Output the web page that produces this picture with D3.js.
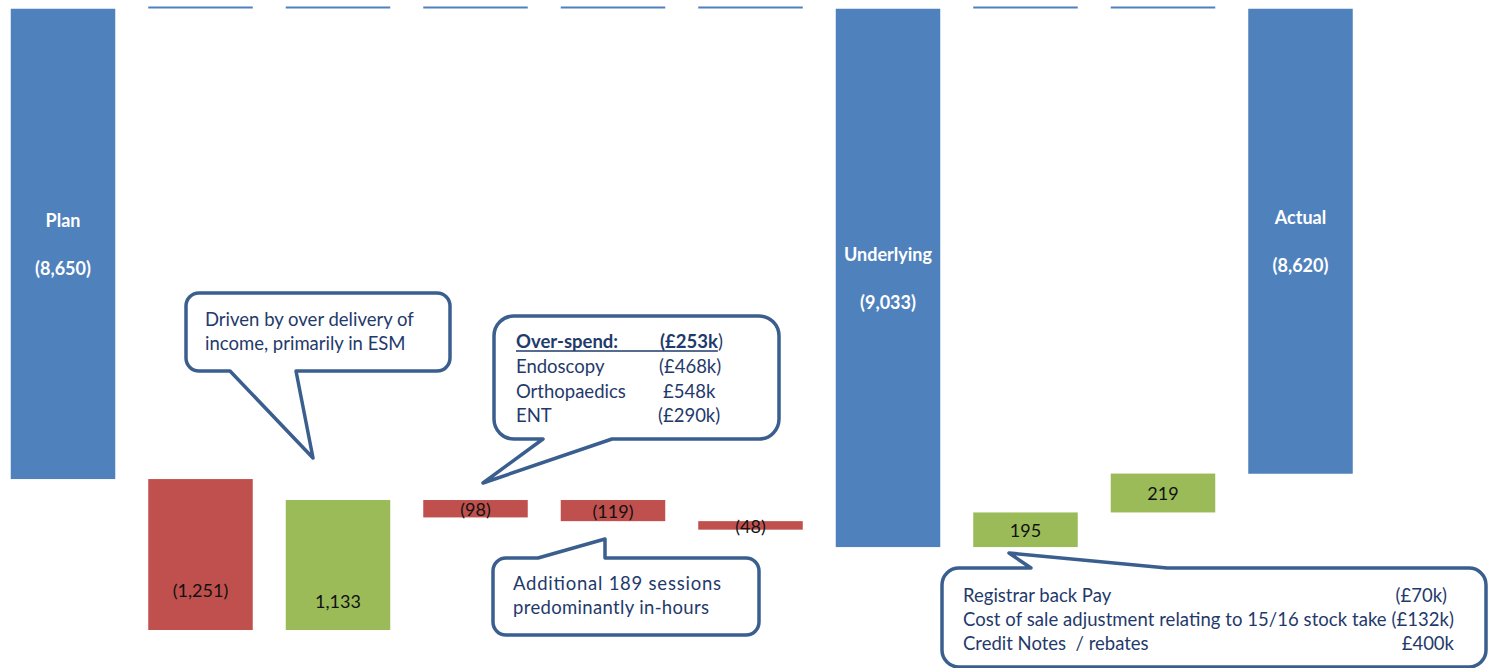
<!DOCTYPE html>
<html>
<head>
<meta charset="utf-8">
<script src="https://cdn.jsdelivr.net/npm/d3@7"></script>
<style>
  html, body { margin: 0; padding: 0; background: #fff; }
  svg { display: block; font-family: Lato, "Open Sans", sans-serif; }
</style>
</head>
<body>
<svg id="chart" width="1498" height="668"></svg>
<script>
// Waterfall: plan -> underlying -> actual (£k, costs shown as negatives)
const categoryNames = ["Plan", "", "", "", "", "", "Underlying", "", "", "Actual"];
const values = [-8650, -1251, 1133, -98, -119, -48, -9033, 195, 219, -8620];
const isTotal = [true, false, false, false, false, false, true, false, false, true];
// running level (magnitude) each movement starts from
const stepStart = [null, 8650, 9901, 8768, 8768, 8887, null, 9033, 8838, null];
// visible window of the (reversed) value axis
const axisDomain = [6000, 9500];

const W = 1498, H = 668;
const plotTop = 8.5, plotBottom = 630;

const colors = { total: "#4F81BD", down: "#C0504D", up: "#9BBB59" };
const calloutStroke = "#3A5F8E";
const calloutText = "#1F3A6B";

const svg = d3.select("#chart");

const x = d3.scaleBand()
  .domain(d3.range(categoryNames.length))
  .range([-5.75, 1369.25])
  .paddingInner(0.24)
  .paddingOuter(0.12);

const y = d3.scaleLinear().domain(axisDomain).range([plotTop, plotBottom]);

const fmt = d3.format(",");
const fmtVal = v => v < 0 ? "(" + fmt(-v) + ")" : fmt(v);

const bars = values.map((v, i) => {
  const a = isTotal[i] ? axisDomain[0] : stepStart[i];
  const b = isTotal[i] ? Math.abs(v) : stepStart[i] - v;
  return {
    i, v, total: isTotal[i], name: categoryNames[i],
    lo: Math.min(a, b), hi: Math.max(a, b),
    color: isTotal[i] ? colors.total : (v < 0 ? colors.down : colors.up)
  };
});

svg.append("clipPath").attr("id", "plot-clip")
  .append("rect")
  .attr("x", 0).attr("y", plotTop)
  .attr("width", W).attr("height", plotBottom - plotTop);

const plot = svg.append("g").attr("clip-path", "url(#plot-clip)");

// outline of the hidden base segment under each movement
svg.append("g").selectAll("line")
  .data(bars.filter(d => !d.total))
  .join("line")
  .attr("x1", d => x(d.i))
  .attr("x2", d => x(d.i) + x.bandwidth())
  .attr("y1", y(axisDomain[0]) - 1)
  .attr("y2", y(axisDomain[0]) - 1)
  .attr("stroke", colors.total)
  .attr("stroke-width", 2);

plot.selectAll("rect.bar")
  .data(bars)
  .join("rect")
  .attr("class", "bar")
  .attr("x", d => x(d.i))
  .attr("width", x.bandwidth())
  .attr("y", d => y(d.lo))
  .attr("height", d => y(d.hi) - y(d.lo))
  .attr("fill", d => d.color);

// value labels on movements
plot.selectAll("text.step")
  .data(bars.filter(d => !d.total))
  .join("text")
  .attr("class", "step")
  .attr("x", d => x(d.i) + x.bandwidth() / 2)
  .attr("y", d => (y(d.lo) + y(d.hi)) / 2)
  .attr("dy", "0.4em")
  .attr("text-anchor", "middle")
  .attr("font-size", 18)
  .attr("fill", "#111")
  .text(d => fmtVal(d.v));

// name + value labels on totals
const totLab = plot.selectAll("g.totlab")
  .data(bars.filter(d => d.total))
  .join("g")
  .attr("class", "totlab")
  .attr("transform", d => `translate(${x(d.i) + x.bandwidth() / 2},${(y(d.lo) + y(d.hi)) / 2})`)
  .attr("text-anchor", "middle")
  .attr("font-size", 18)
  .attr("font-weight", "bold")
  .attr("fill", "#fff");
totLab.append("text").attr("y", -24).attr("dy", "0.38em").text(d => d.name);
totLab.append("text").attr("y", 24).attr("dy", "0.38em").text(d => fmtVal(d.v));

// speech-bubble annotations
function calloutPath(x0, y0, x1, y1, r, tail) {
  const p = d3.path();
  p.moveTo(x0 + r, y0);
  if (tail.edge === "top") {
    p.lineTo(tail.a, y0); p.lineTo(tail.tip[0], tail.tip[1]); p.lineTo(tail.b, y0);
  }
  p.lineTo(x1 - r, y0);
  p.arcTo(x1, y0, x1, y0 + r, r);
  p.lineTo(x1, y1 - r);
  p.arcTo(x1, y1, x1 - r, y1, r);
  if (tail.edge === "bottom") {
    p.lineTo(tail.b, y1); p.lineTo(tail.tip[0], tail.tip[1]); p.lineTo(tail.a, y1);
  }
  p.lineTo(x0 + r, y1);
  p.arcTo(x0, y1, x0, y1 - r, r);
  p.lineTo(x0, y0 + r);
  p.arcTo(x0, y0, x0 + r, y0, r);
  p.closePath();
  return p.toString();
}

const notes = svg.append("g");
function bubble(box, r, tail) {
  notes.append("path")
    .attr("d", calloutPath(box[0], box[1], box[2], box[3], r, tail))
    .attr("fill", "#fff")
    .attr("stroke", calloutStroke)
    .attr("stroke-width", 3.5)
    .attr("stroke-linejoin", "round");
}
function note(txt, xx, yy, opts = {}) {
  return notes.append("text")
    .attr("x", xx).attr("y", yy)
    .attr("font-size", opts.size || 18.5)
    .attr("font-weight", opts.bold ? "bold" : null)
    .attr("text-anchor", opts.anchor || "start")
    .attr("fill", calloutText)
    .text(txt);
}

// income
bubble([186, 293, 450, 371], 13, { edge: "bottom", a: 230, b: 296, tip: [313, 458] });
note("Driven by over delivery of", 205, 326);
note("income, primarily in ESM", 205, 350);

// specialty breakdown
bubble([494, 316, 779, 439], 20, { edge: "bottom", a: 543, b: 612, tip: [483, 483] });
note("Over-spend:", 516, 348, { bold: true });
const t2 = notes.append("text").attr("x", 660).attr("y", 348).attr("font-size", 18.5).attr("fill", calloutText);
t2.append("tspan").attr("font-weight", "bold").text("(£253k");
t2.append("tspan").text(")");
const uEnd = 660 + t2.select("tspan").node().getComputedTextLength();
notes.append("line").attr("x1", 516).attr("x2", uEnd).attr("y1", 351).attr("y2", 351)
  .attr("stroke", calloutText).attr("stroke-width", 1.6);
note("Endoscopy", 516, 373);
note("(£468k)", 659, 373);
note("Orthopaedics", 516, 397.5);
note("£548k", 663, 397.5);
note("ENT", 516, 422);
note("(£290k)", 658, 422);

// sessions
bubble([493, 558, 759, 635], 13, { edge: "top", a: 538, b: 605, tip: [605, 539] });
note("Additional 189 sessions", 513, 590).attr("textLength", 208).attr("lengthAdjust", "spacing");
note("predominantly in-hours", 513, 614).attr("textLength", 196).attr("lengthAdjust", "spacing");

// non-pay items
bubble([942, 568, 1486, 667], 17, { edge: "top", a: 1031, b: 1167, tip: [1009, 553] });
note("Registrar back Pay", 963, 602);
note("(£70k)", 1447, 602, { anchor: "end" });
note("Cost of sale adjustment relating to 15/16 stock take (£132k)", 963, 626)
  .attr("textLength", 491).attr("lengthAdjust", "spacing");
note("Credit Notes  / rebates", 963, 650).style("white-space", "pre");
note("£400k", 1454, 650, { anchor: "end" });
</script>
</body>
</html>
